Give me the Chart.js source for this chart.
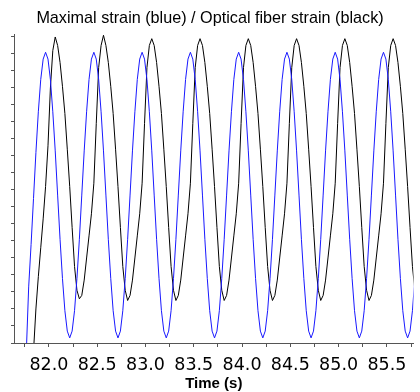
<!DOCTYPE html>
<html>
<head>
<meta charset="utf-8">
<title>Maximal strain / Optical fiber strain</title>
<script src="https://cdn.jsdelivr.net/npm/chart.js@4.4.0/dist/chart.umd.min.js"></script>
<style>
    html, body {
        margin: 0;
        padding: 0;
        background: #ffffff;
    }
    #wrap {
        width: 420px;
        height: 392px;
    }
</style>
</head>
<body>
<div id="wrap"><canvas id="strainChart" width="420" height="392"></canvas></div>
<script>
// Sampling of the recording (s): first sample and spacing
const sampleStart = 81.765;
const sampleStep = 0.025;

// Major tick labels on the time axis
const timeTickLabels = ['82.0', '82.5', '83.0', '83.5', '84.0', '84.5', '85.0', '85.5'];

// Maximal strain (blue)
const maximalStrain = [
    -0.6, 3.3, 5.8, 8.5, 11.2, 13.6, 15.5, 16.7, 17.1,
    16.7, 15.5, 13.6, 11.3, 8.7, 6.1, 3.8, 1.9, 0.7, 0.3, 0.7, 1.9, 3.8, 6.1, 8.7, 11.3, 13.6, 15.5, 16.7, 17.1,
    16.7, 15.5, 13.6, 11.3, 8.7, 6.1, 3.8, 1.9, 0.7, 0.3, 0.7, 1.9, 3.8, 6.1, 8.7, 11.3, 13.6, 15.5, 16.7, 17.1,
    16.7, 15.5, 13.6, 11.3, 8.7, 6.1, 3.8, 1.9, 0.7, 0.3, 0.7, 1.9, 3.8, 6.1, 8.7, 11.3, 13.6, 15.5, 16.7, 17.1,
    16.7, 15.5, 13.6, 11.3, 8.7, 6.1, 3.8, 1.9, 0.7, 0.3, 0.7, 1.9, 3.8, 6.1, 8.7, 11.3, 13.6, 15.5, 16.7, 17.1,
    16.7, 15.5, 13.6, 11.3, 8.7, 6.1, 3.8, 1.9, 0.7, 0.3, 0.7, 1.9, 3.8, 6.1, 8.7, 11.3, 13.6, 15.5, 16.7, 17.1,
    16.7, 15.5, 13.6, 11.3, 8.7, 6.1, 3.8, 1.9, 0.7, 0.3, 0.7, 1.9, 3.8, 6.1, 8.7, 11.3, 13.6, 15.5, 16.7, 17.1,
    16.7, 15.5, 13.6, 11.3, 8.7, 6.1, 3.8, 1.9, 0.7, 0.3, 0.7, 1.9, 3.8, 6.1, 8.7, 11.3, 13.6, 15.5, 16.7, 17.1,
    16.7, 15.5, 13.6, 11.3, 8.7, 6.1, 3.8, 1.9, 0.7, 0.3, 0.7, 1.9, 3.8
];

// Optical fiber strain (black), starts a few samples later
const fiberStrain = [
    null, null, null, -0.5, 2.0, 3.9, 5.6, 7.3, 9.2, 11.6, 15.0, 17.2, 18.0,
    17.5, 16.5, 15.1, 13.5, 11.4, 9.2, 6.8, 4.5, 3.1, 2.6, 2.8, 3.7, 5.0, 6.3, 7.6, 9.4, 12.9, 16.2, 17.5, 18.1,
    17.5, 16.5, 15.1, 13.5, 11.4, 9.2, 6.8, 4.5, 3.1, 2.5, 2.8, 3.7, 5.0, 6.3, 7.6, 9.4, 12.9, 16.2, 17.5, 17.9,
    17.5, 16.5, 15.1, 13.5, 11.4, 9.2, 6.8, 4.5, 3.1, 2.5, 2.8, 3.7, 5.0, 6.3, 7.6, 9.4, 12.9, 16.2, 17.5, 17.9,
    17.5, 16.5, 15.1, 13.5, 11.4, 9.2, 6.8, 4.5, 3.1, 2.5, 2.8, 3.7, 5.0, 6.3, 7.6, 9.4, 12.9, 16.2, 17.5, 17.9,
    17.5, 16.5, 15.1, 13.5, 11.4, 9.2, 6.8, 4.5, 3.1, 2.5, 2.8, 3.7, 5.0, 6.3, 7.6, 9.4, 12.9, 16.2, 17.5, 17.9,
    17.5, 16.5, 15.1, 13.5, 11.4, 9.2, 6.8, 4.5, 3.1, 2.5, 2.8, 3.7, 5.0, 6.3, 7.6, 9.4, 12.9, 16.2, 17.5, 17.9,
    17.5, 16.5, 15.1, 13.5, 11.4, 9.2, 6.8, 4.5, 3.1, 2.5, 2.8, 3.7, 5.0, 6.3, 7.6, 9.4, 12.9, 16.2, 17.5, 17.9,
    17.5, 16.5, 15.1, 13.5, 11.4, 9.2, 6.8, 4.5, 3.1
];

const times = maximalStrain.map((_, i) => +(sampleStart + i * sampleStep).toFixed(3));

function toPoints(values) {
    const pts = [];
    values.forEach((v, i) => {
        if (v !== null) pts.push({ x: times[i], y: v });
    });
    return pts;
}

const axisColor = '#555555';

const ctx = document.getElementById('strainChart');

new Chart(ctx, {
    type: 'line',
    data: {
        datasets: [{
            label: 'Maximal strain',
            data: toPoints(maximalStrain),
            borderColor: 'rgb(25, 25, 255)',
            borderWidth: 1,
            pointRadius: 0,
            tension: 0,
            fill: false
        }, {
            label: 'Optical fiber strain',
            data: toPoints(fiberStrain),
            borderColor: '#000000',
            borderWidth: 1,
            pointRadius: 0,
            tension: 0,
            fill: false
        }]
    },
    options: {
        responsive: false,
        animation: false,
        layout: {
            padding: 0
        },
        plugins: {
            legend: { display: false },
            tooltip: { enabled: false },
            title: {
                display: true,
                text: 'Maximal strain (blue) / Optical fiber strain (black)',
                color: '#000000',
                font: { family: 'Liberation Sans', size: 16.2, weight: 'normal' },
                padding: { top: 9, bottom: 6.5 }
            }
        },
        scales: {
            x: {
                type: 'linear',
                min: 81.638,
                max: 85.776,
                // fixed band under the plot for ticks, labels and title
                afterFit: function (scale) {
                    scale.height = 49;
                },
                grid: {
                    drawOnChartArea: false,
                    drawTicks: true,
                    tickLength: 4,
                    color: axisColor
                },
                border: { display: true, color: axisColor, width: 1 },
                ticks: {
                    stepSize: 0.25,
                    includeBounds: false,
                    autoSkip: false,
                    maxRotation: 0,
                    padding: 9,
                    color: '#000000',
                    font: { family: 'DejaVu Sans', size: 17.5, lineHeight: 1.1 },
                    callback: function (value) {
                        const label = Number(value).toFixed(1);
                        const isMajor = Math.abs(value * 2 - Math.round(value * 2)) < 1e-6;
                        return isMajor && timeTickLabels.includes(label) ? label : '';
                    }
                },
                title: {
                    display: true,
                    text: 'Time (s)',
                    color: '#000000',
                    font: { family: 'Liberation Sans', size: 15, weight: 'bold' },
                    padding: { top: 0, bottom: -1 }
                }
            },
            y: {
                type: 'linear',
                min: 0,
                max: 18.12,
                afterFit: function (scale) {
                    scale.width = 14;
                },
                grid: {
                    drawOnChartArea: false,
                    drawTicks: true,
                    tickLength: 3,
                    color: axisColor
                },
                border: { display: true, color: axisColor, width: 1 },
                ticks: {
                    display: false,
                    stepSize: 1,
                    includeBounds: false
                }
            }
        }
    }
});
</script>
</body>
</html>
